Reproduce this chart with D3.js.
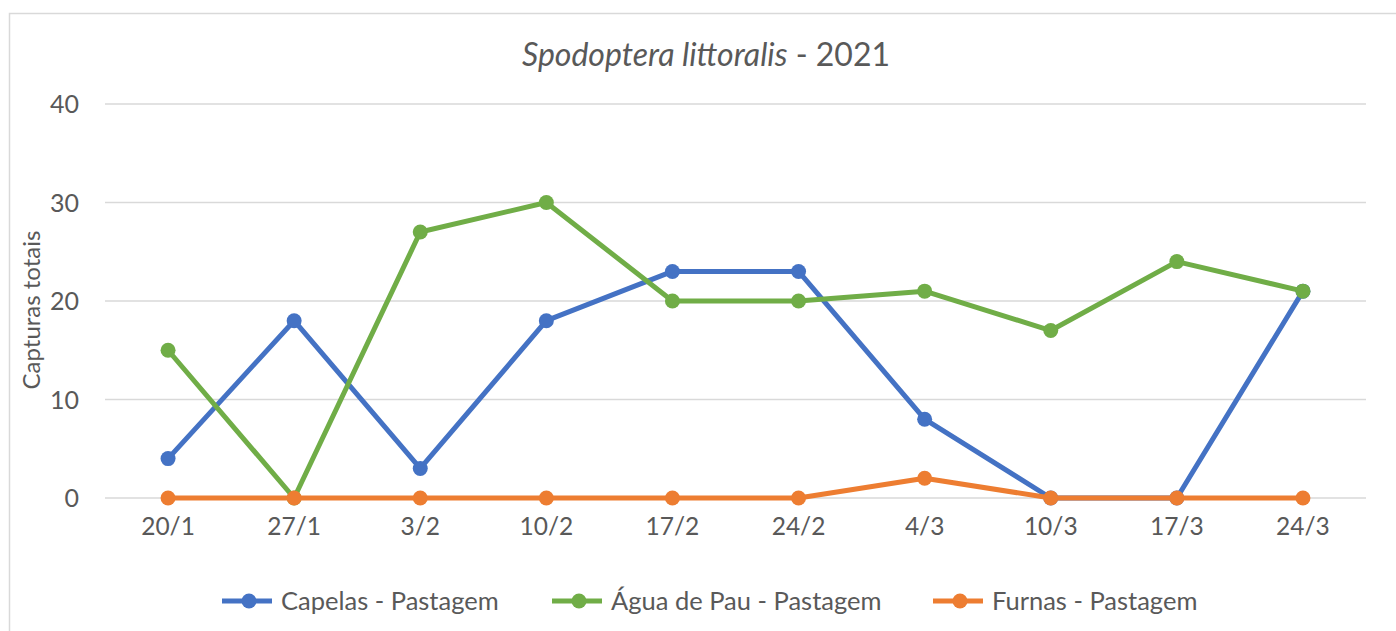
<!DOCTYPE html>
<html><head><meta charset="utf-8">
<script src="https://cdn.jsdelivr.net/npm/d3@7"></script>
<style>body{margin:0;background:#fff}svg{display:block;font-family:Lato,"Open Sans",sans-serif}</style>
</head><body><svg id="c" width="1396" height="631"></svg>
<script>
const categories = ["20/1","27/1","3/2","10/2","17/2","24/2","4/3","10/3","17/3","24/3"];
const capelas = [4,18,3,18,23,23,8,0,0,21];
const aguaDePau = [15,0,27,30,20,20,21,17,24,21];
const furnas = [0,0,0,0,0,0,2,0,0,0];
const yTicks = [0,10,20,30,40];
const seriesNames = ["Capelas - Pastagem","Água de Pau - Pastagem","Furnas - Pastagem"];
const seriesColors = ["#4472C4","#70AD47","#ED7D31"];
const series = [capelas, aguaDePau, furnas];

const svg = d3.select("#c");
svg.append("rect").attr("x",9.5).attr("y",13.5).attr("width",1400).attr("height",700)
  .attr("fill","#fff").attr("stroke","#d9d9d9").attr("stroke-width",1.5);

const x = d3.scaleBand().domain(categories).range([105,1366]);
const y = d3.scaleLinear().domain([0,40]).range([498,104]);
const txt = "#595959";

// grid
svg.append("g").selectAll("line").data(yTicks).join("line")
  .attr("x1",105).attr("x2",1366).attr("y1",d=>y(d)).attr("y2",d=>y(d))
  .attr("stroke","#d9d9d9").attr("stroke-width",1.5);

// y axis labels
const yAxis = d3.axisLeft(y).tickValues(yTicks).tickSize(0).tickPadding(0);
const ya = svg.append("g").attr("transform","translate(79,0)").call(yAxis);
ya.select(".domain").remove();
ya.selectAll("text").attr("fill",txt).attr("dy","0.35em").style("font-size","25px").style("font-family","Lato,sans-serif");

// x axis labels
const xAxis = d3.axisBottom(x).tickSize(0).tickPadding(0);
const xa = svg.append("g").attr("transform","translate(0,518)").call(xAxis);
xa.select(".domain").remove();
xa.selectAll("text").attr("fill",txt).style("font-size","24.5px").style("font-family","Lato,sans-serif");

// title
const t = svg.append("text").attr("x",706).attr("y",66).attr("text-anchor","middle")
  .attr("fill",txt).style("font-size","32px");
t.append("tspan").style("font-style","italic").text("Spodoptera littoralis");
t.append("tspan").text(" - 2021");

// y title
svg.append("text").attr("transform","translate(40,310) rotate(-90)").attr("text-anchor","middle")
  .attr("fill",txt).style("font-size","24px").text("Capturas totais");

// series
const line = d3.line().x((d,i)=>x(categories[i])+x.bandwidth()/2).y(d=>y(d));
series.forEach((s,k)=>{
  const g = svg.append("g");
  g.append("path").attr("d",line(s)).attr("fill","none").attr("stroke",seriesColors[k])
    .attr("stroke-width",5).attr("stroke-linejoin","round");
  g.selectAll("circle").data(s).join("circle")
    .attr("cx",(d,i)=>x(categories[i])+x.bandwidth()/2).attr("cy",d=>y(d)).attr("r",7.5)
    .attr("fill",seriesColors[k]);
});

// legend
const legX = [222,552,933];
const lg = svg.append("g");
seriesNames.forEach((n,k)=>{
  const g = lg.append("g").attr("transform",`translate(${legX[k]},601)`);
  g.append("line").attr("x1",0).attr("x2",50).attr("stroke",seriesColors[k]).attr("stroke-width",5);
  g.append("circle").attr("cx",27).attr("r",7.5).attr("fill",seriesColors[k]);
  g.append("text").attr("x",59).attr("y",9).attr("fill",txt).style("font-size","25.5px").text(n);
});
</script></body></html>
